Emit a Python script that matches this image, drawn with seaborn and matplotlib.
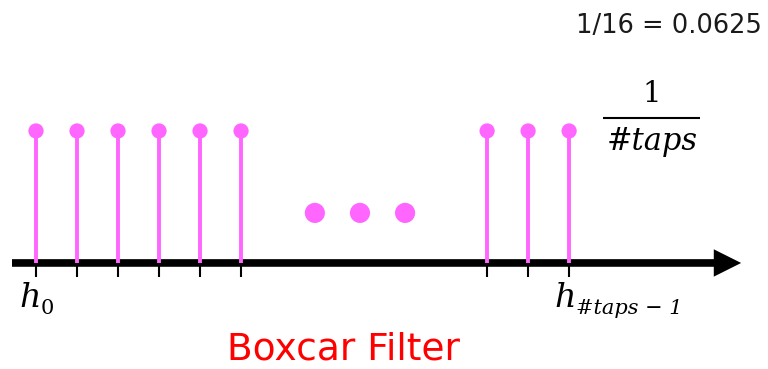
import matplotlib
matplotlib.use("Agg")
import matplotlib.pyplot as plt
import seaborn as sns
import pandas as pd
import numpy as np

# data
taps_left = [0, 1, 2, 3, 4, 5]
taps_right = [11, 12, 13]
coef = 1 / 16
ellipsis_x = [6.8, 7.9, 9.0]
ellipsis_y = [0.0237, 0.0237, 0.0237]
title = "Boxcar Filter"
note = "1/16 = 0.0625"

taps = taps_left + taps_right
df = pd.DataFrame({"tap": taps, "h": [coef] * len(taps)})
dots = pd.DataFrame({"x": ellipsis_x, "y": ellipsis_y})

sns.set_theme(style="white")
plt.rcParams["text.color"] = "black"
pink = "#FF66FF"
serif = "DejaVu Serif"

fig = plt.figure(figsize=(7.68, 3.69), dpi=100)
ax = fig.add_axes([0, 0, 1, 1])
ax.set_xlim(-0.878, 17.85)
ax.set_ylim(-0.0502, 0.1245)
ax.axis("off")

# layout helpers (pixel -> data)
def px(x):
    return (x - 36) / 41.0

def py(y):
    return (263 - y) / 2112.0

# axis line with arrow
ax.annotate("", xy=(px(741), 0), xytext=(px(12), 0),
            arrowprops=dict(arrowstyle="-|>,head_length=0.9,head_width=0.45",
                            lw=5.5, color="black", shrinkA=0, shrinkB=0,
                            joinstyle="miter", capstyle="butt"),
            zorder=2)
# ticks below axis
ax.vlines(df["tap"], py(277), 0, color="black", lw=1.5, zorder=1)
# stems
ax.vlines(df["tap"], 0, df["h"], color=pink, lw=2.8, zorder=3)
sns.scatterplot(data=df, x="tap", y="h", ax=ax, color=pink, s=120,
                edgecolor="none", zorder=4, legend=False)
sns.scatterplot(data=dots, x="x", y="y", ax=ax, color=pink, s=210,
                edgecolor="none", zorder=4, legend=False)
ax.set_xlabel("")
ax.set_ylabel("")

# h_0 label
t0 = ax.text(taps[0] - 0.4, py(307), "h", fontsize=24, fontfamily=serif,
             style="italic", ha="left", va="baseline", color="black")
ax.annotate("0", xy=(1, 0), xycoords=t0, xytext=(0, 0), textcoords="offset points",
            fontsize=15, fontfamily=serif, ha="left", va="baseline", color="black")

# h_{#taps-1} label
t1 = ax.text(taps[-1] - 0.35, py(307), "h", fontsize=24, fontfamily=serif,
             style="italic", ha="left", va="baseline", color="black")
ax.annotate("#taps \u2212 1", xy=(1, 0), xycoords=t1, xytext=(0, 0),
            textcoords="offset points", fontsize=15, fontfamily=serif,
            style="italic", ha="left", va="baseline", color="black")

# fraction 1/#taps
fx = px(652)
ax.text(fx, py(102), "1", fontsize=21, fontfamily=serif, ha="center",
        va="baseline", color="black")
ax.hlines(py(118), px(603), px(700), color="black", lw=1.5)
ax.text(fx, py(150), "#taps", fontsize=22, fontfamily=serif, style="italic",
        ha="center", va="baseline", color="black")

ax.text(px(762), py(33), note, fontsize=18.5, ha="right", va="baseline",
        color="#1a1a1a")
ax.text(px(343), py(360), title, fontsize=27, ha="center", va="baseline",
        color="red")

fig.savefig("out.png", dpi=100)
